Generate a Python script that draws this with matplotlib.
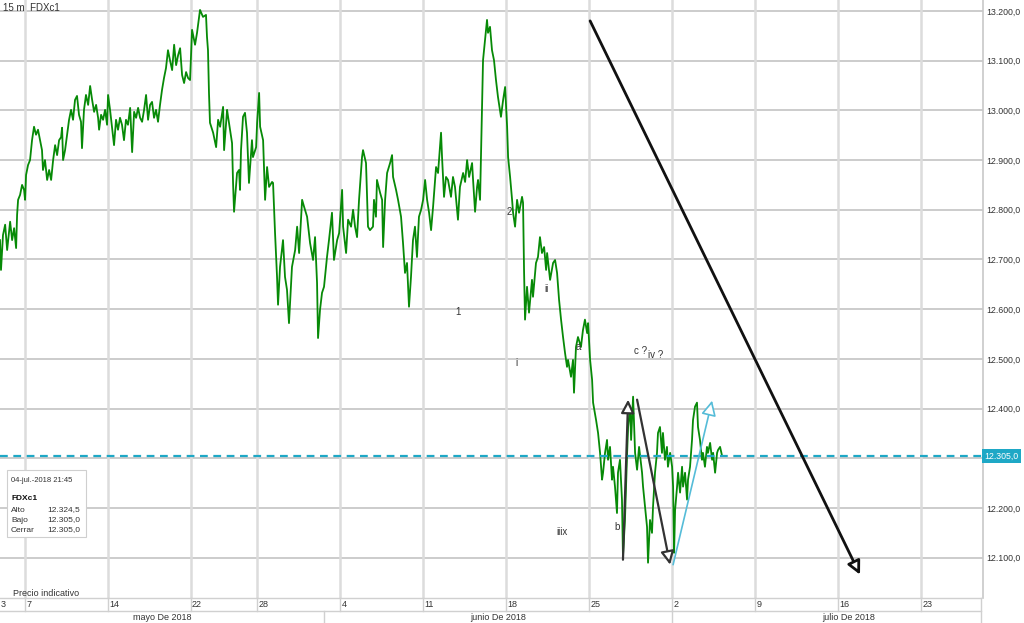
import matplotlib
matplotlib.use("Agg")
import matplotlib.pyplot as plt
from matplotlib.patches import Rectangle
from matplotlib.ticker import FuncFormatter, FixedLocator

plt.rcParams['font.family'] = ['Liberation Sans', 'DejaVu Sans']

# ---- data: trading-day index (0 = 7 May 2018) and FDXc1 price (15 m) ----
days = [-1.51, -1.45, -1.33, -1.20, -1.08, -0.90, -0.78, -0.66, -0.54, -0.48, -0.42, -0.30, -0.18, -0.06, 0.00,
        0.06, 0.18, 0.30, 0.42, 0.54, 0.66, 0.78, 0.90, 1.02, 1.08, 1.20, 1.33, 1.45, 1.57, 1.69, 1.81, 1.93,
        2.05, 2.17, 2.23, 2.29, 2.41, 2.53, 2.65, 2.77, 2.89, 3.01, 3.13, 3.25, 3.37, 3.43, 3.55, 3.67, 3.80,
        3.92, 4.04, 4.16, 4.28, 4.40, 4.46, 4.58, 4.70, 4.82, 4.94, 5.00, 5.12, 5.24, 5.36, 5.48, 5.60, 5.72,
        5.84, 5.96, 6.08, 6.20, 6.33, 6.45, 6.57, 6.69, 6.81, 6.93, 7.05, 7.17, 7.29, 7.41, 7.53, 7.65, 7.77,
        7.89, 8.01, 8.13, 8.25, 8.37, 8.49, 8.61, 8.73, 8.86, 8.98, 9.10, 9.22, 9.34, 9.46, 9.58, 9.70, 9.82,
        9.94,
        10.06, 10.24, 10.36, 10.54, 10.72, 10.90, 10.96, 11.02, 11.08, 11.14, 11.33, 11.51, 11.63, 11.75, 11.93,
        11.99, 12.17, 12.23, 12.47, 12.53, 12.59, 12.77, 12.89, 12.95, 13.01, 13.13, 13.25, 13.37, 13.49, 13.67,
        13.73, 13.92, 13.98, 14.10, 14.16, 14.34, 14.46, 14.58, 14.70, 14.88, 14.94, 15.06, 15.18, 15.24, 15.36,
        15.54, 15.66, 15.78, 15.90, 16.08, 16.27, 16.39, 16.51, 16.69, 16.81, 16.99, 17.17, 17.35, 17.47, 17.59,
        17.65, 17.77, 17.89, 18.01, 18.19, 18.31, 18.49, 18.61, 18.80, 18.92, 19.10, 19.16, 19.34, 19.46, 19.64,
        19.76, 19.88, 20.00, 20.12, 20.30, 20.36, 20.54, 20.66, 20.78, 20.96, 21.02, 21.14, 21.20, 21.39, 21.51,
        21.57, 21.69, 21.81, 21.99, 22.11, 22.17, 22.35, 22.47, 22.65, 22.77, 22.89, 23.01, 23.13, 23.25, 23.37,
        23.49, 23.61, 23.73, 23.86, 23.98, 24.10, 24.22, 24.34, 24.46, 24.58, 24.76, 24.88, 25.06, 25.12, 25.24,
        25.36, 25.48, 25.66, 25.78, 25.90, 26.08, 26.20, 26.39, 26.51, 26.63, 26.75, 26.93, 26.99, 27.11, 27.23,
        27.29, 27.41, 27.53, 27.59, 27.71, 27.83, 27.89, 28.01, 28.13, 28.25, 28.37, 28.49, 28.67, 28.80, 28.92,
        29.04, 29.10, 29.22, 29.34, 29.40, 29.52, 29.64, 29.76, 29.94, 30.00, 30.06, 30.12, 30.24, 30.36, 30.54,
        30.60, 30.78, 30.90, 31.02, 31.14, 31.27, 31.39, 31.45, 31.63, 31.81, 31.93, 32.05, 32.17, 32.29, 32.41,
        32.53, 32.65, 32.71, 32.89, 33.01, 33.07, 33.19, 33.31, 33.49, 33.61, 33.73, 33.86, 33.92, 34.04, 34.16,
        34.22, 34.40, 34.52, 34.64, 34.76, 34.82, 34.94, 35.06, 35.12, 35.24, 35.36, 35.42, 35.54, 35.66, 35.72,
        35.84, 35.96, 36.02, 36.14, 36.27, 36.33, 36.45, 36.51, 36.63, 36.75, 36.87, 36.99, 37.17, 37.23, 37.35,
        37.47, 37.53, 37.65, 37.77, 37.83, 37.95, 38.07, 38.13, 38.25, 38.37, 38.43, 38.55, 38.67, 38.73, 38.86,
        38.98, 39.04, 39.10, 39.16, 39.28, 39.34, 39.46, 39.58, 39.64, 39.76, 39.88, 39.94, 40.06, 40.18, 40.24,
        40.36, 40.48, 40.54, 40.66, 40.78, 40.84, 40.96, 41.08, 41.14, 41.27, 41.39, 41.45, 41.57, 41.69, 41.75,
        41.87, 41.99]

prices = [12739, 12679, 12749, 12770, 12719, 12776, 12739, 12763, 12723, 12790, 12820, 12830, 12850, 12840, 12820,
          12870, 12890, 12900, 12940, 12967, 12951, 12961, 12940, 12920, 12880, 12900, 12860, 12880, 12860, 12900,
          12930, 12910, 12940, 12946, 12965, 12900, 12920, 12951, 12981, 13001, 12981, 13021, 13029, 12991, 12977,
          12924, 13001, 13031, 13011, 13049, 13021, 12997, 13011, 12985, 12961, 12991, 12981, 13001, 12971, 13031,
          13001, 12965, 12930, 12981, 12961, 12985, 12971, 12940, 12981, 12971, 13005, 12916, 12997, 12985, 13005,
          12985, 12977, 13001, 13031, 12981, 13011, 13017, 12985, 13001, 12977, 13011, 13041, 13065, 13085, 13121,
          13101, 13081, 13132, 13091, 13111, 13125, 13071, 13055, 13077, 13065, 13061,
          13162, 13132, 13156, 13202, 13188, 13192, 13148, 13121, 13035, 12975, 12955, 12926, 12981, 12967, 13007,
          12920, 13001, 12987, 12934, 12854, 12796, 12874, 12880, 12840, 12920, 12987, 12995, 12955, 12854, 12940,
          12906, 12926, 12975, 13035, 12967, 12940, 12820, 12886, 12846, 12856, 12854, 12753, 12665, 12609, 12685,
          12739, 12665, 12639, 12572, 12685, 12719, 12766, 12713, 12820, 12806, 12786, 12733, 12699, 12745, 12653,
          12542, 12599, 12633, 12645, 12705, 12739, 12794, 12699, 12739, 12753, 12840, 12766, 12713, 12780, 12766,
          12800, 12766, 12745, 12820, 12906, 12920, 12894, 12766, 12759, 12766, 12820, 12786, 12860, 12834, 12820,
          12725, 12820, 12874, 12894, 12910, 12866, 12840, 12820, 12786, 12733, 12673, 12693, 12605, 12665, 12739,
          12766, 12705, 12786, 12800, 12820, 12860, 12820, 12794, 12759, 12806, 12886, 12874, 12955, 12906, 12826,
          12866, 12860, 12826, 12866, 12846, 12780, 12846, 12874, 12856, 12900, 12866, 12894, 12860, 12796, 12846,
          12860, 12820, 13007, 13101, 13142, 13182, 13156, 13168, 13121, 13101, 13061, 13027, 12987, 13021, 13047,
          12967, 12906, 12866, 12820, 12794, 12766, 12820, 12794, 12826, 12814, 12679, 12579, 12645, 12593, 12659,
          12625, 12693, 12705, 12745, 12713, 12725, 12679, 12713, 12659, 12693, 12699, 12673, 12619, 12579, 12544,
          12512, 12484, 12498, 12464, 12498, 12432, 12524, 12544, 12524, 12558, 12579, 12552, 12572, 12498, 12458,
          12412, 12377, 12351, 12311, 12257, 12271, 12311, 12337, 12297, 12323, 12257, 12283, 12243, 12190, 12271,
          12297, 12217, 12102, 12176, 12311, 12363, 12404, 12337, 12424, 12311, 12277, 12323, 12271, 12243, 12202,
          12162, 12090, 12176, 12150, 12202, 12271, 12311, 12351, 12363, 12311, 12351, 12297, 12323, 12283, 12311,
          12283, 12243, 12110, 12196, 12243, 12271, 12231, 12283, 12243, 12271, 12217, 12257, 12283, 12337, 12377,
          12404, 12412, 12363, 12337, 12297, 12311, 12283, 12323, 12311, 12331, 12297, 12311, 12271, 12311, 12317,
          12323, 12305]

last_price = 12305.0
info_date = "04-jul.-2018 21:45"
info_alto, info_bajo, info_cerrar = 12324.5, 12305.0, 12305.0

# x-axis: weekly ticks (trading-day index) and labels
week_pos = [-2, 0, 5, 10, 14, 19, 24, 29, 34, 39, 44, 49, 54]
week_lbl = ["3", "7", "14", "22", "28", "4", "11", "18", "25", "2", "9", "16", "23"]
month_bounds = [18, 39]          # 1 June, 2 July
month_lbl = ["mayo De 2018", "junio De 2018", "julio De 2018"]
grid_prices = [12100, 12200, 12300, 12400, 12500, 12600, 12700, 12800, 12900, 13000, 13100, 13200]
label_prices = [12100, 12200, 12400, 12500, 12600, 12700, 12800, 12900, 13000, 13100, 13200]

# drawn analysis arrows: (day_start, price_start, day_end, price_end)
big_arrow = (34.04, 13180, 50.3, 12066)
arrow_up = (36.02, 12096, 36.33, 12418)
arrow_down = (36.87, 12418, 38.86, 12086)
arrow_cyan = (39.04, 12086, 41.39, 12416)

# wave labels: (day, price, text)
wave_labels = [(29.16, 12796, "2"), (31.39, 12641, "ii"), (26.08, 12595, "1"), (29.58, 12492, "i"),
               (33.31, 12524, "a"), (35.66, 12162, "b"), (32.35, 12152, "iiix"),
               (37.1, 12516, "c ?"), (38.0, 12508, "iv ?")]

# ---------------------------------------------------------------------------
W, H = 1024, 623
fig = plt.figure(figsize=(W / 100, H / 100), dpi=100)
fig.patch.set_facecolor("white")
ax = fig.add_axes([0, 25 / H, 983 / W, 598 / H])

xmin, xmax = -1.51, 57.71
ymin, ymax = 12019, 13222
ax.set_xlim(xmin, xmax)
ax.set_ylim(ymin, ymax)

for p in grid_prices:
    ax.axhline(p, color="#c8c8c8", lw=1.3, zorder=0)
for w in week_pos[1:]:
    ax.axvline(w, color="#dcdcdc", lw=1.8, zorder=0)

ax.plot(days, prices, color="#078a07", lw=1.3, zorder=3)

ax.axhline(last_price, color="#1ea8c6", lw=1.6, ls=(0, (3.5, 2.5)), zorder=4)

# spines / axis
for s in ["top", "left", "bottom"]:
    ax.spines[s].set_visible(False)
ax.spines["right"].set_color("#c8c8c8")
ax.spines["right"].set_linewidth(1.2)
ax.yaxis.tick_right()
ax.yaxis.set_major_locator(FixedLocator(label_prices))
fmt = lambda v, pos: "{:,.1f}".format(v).replace(",", "X").replace(".", ",").replace("X", ".")
ax.yaxis.set_major_formatter(FuncFormatter(fmt))
ax.tick_params(axis="y", length=0, pad=2.5, labelsize=6.3, labelcolor="#333333")
ax.set_xticks([])

# last price label
ax.text(1.0015, (last_price - ymin) / (ymax - ymin), fmt(last_price, 0), transform=ax.transAxes,
        ha="left", va="center", fontsize=6.3, color="white", zorder=6, clip_on=False,
        bbox=dict(boxstyle="square,pad=0.25", fc="#1ea8c6", ec="none"))

# arrows
def arrow(seg, color, lw, hl, hw):
    x0, y0, x1, y1 = seg
    ax.annotate("", xy=(x1, y1), xytext=(x0, y0),
                arrowprops=dict(arrowstyle="-|>,head_length={},head_width={}".format(hl, hw),
                                fc="white", ec=color, lw=lw, shrinkA=0, shrinkB=0), zorder=5)

arrow(big_arrow, "#111111", 2.0, 0.8, 0.4)
arrow(arrow_up, "#333333", 1.6, 0.8, 0.4)
arrow(arrow_down, "#333333", 1.6, 0.8, 0.4)
arrow(arrow_cyan, "#55bcd8", 1.2, 0.9, 0.45)

for d, p, t in wave_labels:
    ax.text(d, p, t, fontsize=7, color="#333333", ha="center", va="center", zorder=4)

# header
fig.text(3 / W, 1 - 8 / H, "15 m  FDXc1", fontsize=7, color="#333333", ha="left", va="center")

# info box
fx = lambda px: px / W
fy = lambda py: 1 - py / H
fig.patches.append(Rectangle((fx(7), fy(537)), fx(86) - fx(7), fy(470) - fy(537), transform=fig.transFigure,
                             fc="white", ec="#cfcfcf", lw=0.8, zorder=10))
fig.text(fx(11), fy(480), info_date, fontsize=5.5, color="#333333", va="center", zorder=11)
fig.text(fx(11), fy(499), "FDXc1", fontsize=6, color="#111111", weight="bold", va="center", zorder=11)
for i, (k, v) in enumerate([("Alto", info_alto), ("Bajo", info_bajo), ("Cerrar", info_cerrar)]):
    fig.text(fx(11), fy(510 + i * 10), k, fontsize=6, color="#333333", va="center", zorder=11)
    fig.text(fx(80), fy(510 + i * 10), fmt(v, 0), fontsize=6, color="#333333", va="center", ha="right", zorder=11)

fig.text(fx(13), fy(594), "Precio indicativo", fontsize=6.5, color="#333333", va="center")

# x-axis rows (week row + month row)
row1_top, row1_bot, row2_bot = fy(598), fy(611), fy(623)
xt = lambda d: (d - xmin) / (xmax - xmin) * (983 / W)
line_c = "#d0d0d0"
fig.add_artist(plt.Line2D([0, fx(981)], [row1_top, row1_top], color=line_c, lw=1.0, transform=fig.transFigure))
fig.add_artist(plt.Line2D([0, fx(981)], [row1_bot, row1_bot], color=line_c, lw=1.0, transform=fig.transFigure))
fig.add_artist(plt.Line2D([fx(981), fx(981)], [row2_bot, row1_top], color=line_c, lw=1.0, transform=fig.transFigure))
for w, lbl in zip(week_pos, week_lbl):
    x = max(xt(w), 0)
    if w >= 0:
        fig.add_artist(plt.Line2D([x, x], [row1_bot, row1_top], color=line_c, lw=1.0, transform=fig.transFigure))
    fig.text(x + fx(1), (row1_top + row1_bot) / 2, lbl, fontsize=6.5, color="#333333", va="center", ha="left")
for b in month_bounds:
    fig.add_artist(plt.Line2D([xt(b), xt(b)], [row2_bot, row1_bot], color=line_c, lw=1.0, transform=fig.transFigure))
edges = [0, xt(month_bounds[0]), xt(month_bounds[1]), 1.0]
for i, lbl in enumerate(month_lbl):
    fig.text((edges[i] + edges[i + 1]) / 2, (row1_bot + row2_bot) / 2, lbl, fontsize=6.5, color="#333333",
             va="center", ha="center")

fig.savefig("out.png", dpi=100)
